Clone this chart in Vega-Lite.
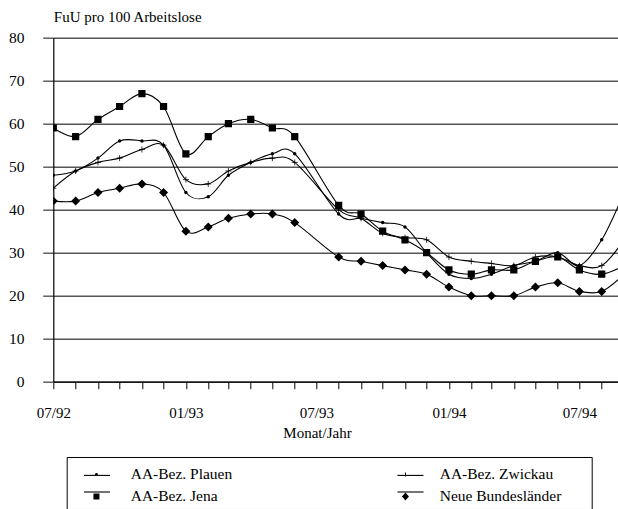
{
  "$schema": "https://vega.github.io/schema/vega-lite/v6.json",
  "width": 565,
  "height": 344,
  "autosize": {"type": "none"},
  "padding": {"left": 53.3, "top": 37.7, "right": 0, "bottom": 127.3},
  "background": "white",
  "config": {"view": {"stroke": null}, "font": "Liberation Serif"},
  "data": {"values": [
    {"Monat": "1992-07-01", "Reihe": "AA-Bez. Plauen", "Wert": 48},
    {"Monat": "1992-08-01", "Reihe": "AA-Bez. Plauen", "Wert": 49},
    {"Monat": "1992-09-01", "Reihe": "AA-Bez. Plauen", "Wert": 52},
    {"Monat": "1992-10-01", "Reihe": "AA-Bez. Plauen", "Wert": 56},
    {"Monat": "1992-11-01", "Reihe": "AA-Bez. Plauen", "Wert": 56},
    {"Monat": "1992-12-01", "Reihe": "AA-Bez. Plauen", "Wert": 55},
    {"Monat": "1993-01-01", "Reihe": "AA-Bez. Plauen", "Wert": 44},
    {"Monat": "1993-02-01", "Reihe": "AA-Bez. Plauen", "Wert": 43},
    {"Monat": "1993-03-01", "Reihe": "AA-Bez. Plauen", "Wert": 48},
    {"Monat": "1993-04-01", "Reihe": "AA-Bez. Plauen", "Wert": 51},
    {"Monat": "1993-05-01", "Reihe": "AA-Bez. Plauen", "Wert": 53},
    {"Monat": "1993-06-01", "Reihe": "AA-Bez. Plauen", "Wert": 53},
    {"Monat": "1993-08-01", "Reihe": "AA-Bez. Plauen", "Wert": 39},
    {"Monat": "1993-09-01", "Reihe": "AA-Bez. Plauen", "Wert": 38},
    {"Monat": "1993-10-01", "Reihe": "AA-Bez. Plauen", "Wert": 37},
    {"Monat": "1993-11-01", "Reihe": "AA-Bez. Plauen", "Wert": 36},
    {"Monat": "1993-12-01", "Reihe": "AA-Bez. Plauen", "Wert": 30},
    {"Monat": "1994-01-01", "Reihe": "AA-Bez. Plauen", "Wert": 25},
    {"Monat": "1994-02-01", "Reihe": "AA-Bez. Plauen", "Wert": 24},
    {"Monat": "1994-03-01", "Reihe": "AA-Bez. Plauen", "Wert": 25},
    {"Monat": "1994-04-01", "Reihe": "AA-Bez. Plauen", "Wert": 27},
    {"Monat": "1994-05-01", "Reihe": "AA-Bez. Plauen", "Wert": 28},
    {"Monat": "1994-06-01", "Reihe": "AA-Bez. Plauen", "Wert": 30},
    {"Monat": "1994-07-01", "Reihe": "AA-Bez. Plauen", "Wert": 27},
    {"Monat": "1994-08-01", "Reihe": "AA-Bez. Plauen", "Wert": 33},
    {"Monat": "1994-09-01", "Reihe": "AA-Bez. Plauen", "Wert": 44},
    {"Monat": "1992-07-01", "Reihe": "AA-Bez. Zwickau", "Wert": 45},
    {"Monat": "1992-08-01", "Reihe": "AA-Bez. Zwickau", "Wert": 49},
    {"Monat": "1992-09-01", "Reihe": "AA-Bez. Zwickau", "Wert": 51},
    {"Monat": "1992-10-01", "Reihe": "AA-Bez. Zwickau", "Wert": 52},
    {"Monat": "1992-11-01", "Reihe": "AA-Bez. Zwickau", "Wert": 54},
    {"Monat": "1992-12-01", "Reihe": "AA-Bez. Zwickau", "Wert": 55},
    {"Monat": "1993-01-01", "Reihe": "AA-Bez. Zwickau", "Wert": 47},
    {"Monat": "1993-02-01", "Reihe": "AA-Bez. Zwickau", "Wert": 46},
    {"Monat": "1993-03-01", "Reihe": "AA-Bez. Zwickau", "Wert": 49},
    {"Monat": "1993-04-01", "Reihe": "AA-Bez. Zwickau", "Wert": 51},
    {"Monat": "1993-05-01", "Reihe": "AA-Bez. Zwickau", "Wert": 52},
    {"Monat": "1993-06-01", "Reihe": "AA-Bez. Zwickau", "Wert": 51},
    {"Monat": "1993-08-01", "Reihe": "AA-Bez. Zwickau", "Wert": 40},
    {"Monat": "1993-09-01", "Reihe": "AA-Bez. Zwickau", "Wert": 38},
    {"Monat": "1993-10-01", "Reihe": "AA-Bez. Zwickau", "Wert": 34.5},
    {"Monat": "1993-11-01", "Reihe": "AA-Bez. Zwickau", "Wert": 33.5},
    {"Monat": "1993-12-01", "Reihe": "AA-Bez. Zwickau", "Wert": 33},
    {"Monat": "1994-01-01", "Reihe": "AA-Bez. Zwickau", "Wert": 29},
    {"Monat": "1994-02-01", "Reihe": "AA-Bez. Zwickau", "Wert": 28},
    {"Monat": "1994-03-01", "Reihe": "AA-Bez. Zwickau", "Wert": 27.5},
    {"Monat": "1994-04-01", "Reihe": "AA-Bez. Zwickau", "Wert": 27},
    {"Monat": "1994-05-01", "Reihe": "AA-Bez. Zwickau", "Wert": 29},
    {"Monat": "1994-06-01", "Reihe": "AA-Bez. Zwickau", "Wert": 29},
    {"Monat": "1994-07-01", "Reihe": "AA-Bez. Zwickau", "Wert": 27},
    {"Monat": "1994-08-01", "Reihe": "AA-Bez. Zwickau", "Wert": 27},
    {"Monat": "1994-09-01", "Reihe": "AA-Bez. Zwickau", "Wert": 33},
    {"Monat": "1992-07-01", "Reihe": "AA-Bez. Jena", "Wert": 59},
    {"Monat": "1992-08-01", "Reihe": "AA-Bez. Jena", "Wert": 57},
    {"Monat": "1992-09-01", "Reihe": "AA-Bez. Jena", "Wert": 61},
    {"Monat": "1992-10-01", "Reihe": "AA-Bez. Jena", "Wert": 64},
    {"Monat": "1992-11-01", "Reihe": "AA-Bez. Jena", "Wert": 67},
    {"Monat": "1992-12-01", "Reihe": "AA-Bez. Jena", "Wert": 64},
    {"Monat": "1993-01-01", "Reihe": "AA-Bez. Jena", "Wert": 53},
    {"Monat": "1993-02-01", "Reihe": "AA-Bez. Jena", "Wert": 57},
    {"Monat": "1993-03-01", "Reihe": "AA-Bez. Jena", "Wert": 60},
    {"Monat": "1993-04-01", "Reihe": "AA-Bez. Jena", "Wert": 61},
    {"Monat": "1993-05-01", "Reihe": "AA-Bez. Jena", "Wert": 59},
    {"Monat": "1993-06-01", "Reihe": "AA-Bez. Jena", "Wert": 57},
    {"Monat": "1993-08-01", "Reihe": "AA-Bez. Jena", "Wert": 41},
    {"Monat": "1993-09-01", "Reihe": "AA-Bez. Jena", "Wert": 39},
    {"Monat": "1993-10-01", "Reihe": "AA-Bez. Jena", "Wert": 35},
    {"Monat": "1993-11-01", "Reihe": "AA-Bez. Jena", "Wert": 33},
    {"Monat": "1993-12-01", "Reihe": "AA-Bez. Jena", "Wert": 30},
    {"Monat": "1994-01-01", "Reihe": "AA-Bez. Jena", "Wert": 26},
    {"Monat": "1994-02-01", "Reihe": "AA-Bez. Jena", "Wert": 25},
    {"Monat": "1994-03-01", "Reihe": "AA-Bez. Jena", "Wert": 26},
    {"Monat": "1994-04-01", "Reihe": "AA-Bez. Jena", "Wert": 26},
    {"Monat": "1994-05-01", "Reihe": "AA-Bez. Jena", "Wert": 28},
    {"Monat": "1994-06-01", "Reihe": "AA-Bez. Jena", "Wert": 29},
    {"Monat": "1994-07-01", "Reihe": "AA-Bez. Jena", "Wert": 26},
    {"Monat": "1994-08-01", "Reihe": "AA-Bez. Jena", "Wert": 25},
    {"Monat": "1994-09-01", "Reihe": "AA-Bez. Jena", "Wert": 27},
    {"Monat": "1992-07-01", "Reihe": "Neue Bundesländer", "Wert": 42},
    {"Monat": "1992-08-01", "Reihe": "Neue Bundesländer", "Wert": 42},
    {"Monat": "1992-09-01", "Reihe": "Neue Bundesländer", "Wert": 44},
    {"Monat": "1992-10-01", "Reihe": "Neue Bundesländer", "Wert": 45},
    {"Monat": "1992-11-01", "Reihe": "Neue Bundesländer", "Wert": 46},
    {"Monat": "1992-12-01", "Reihe": "Neue Bundesländer", "Wert": 44},
    {"Monat": "1993-01-01", "Reihe": "Neue Bundesländer", "Wert": 35},
    {"Monat": "1993-02-01", "Reihe": "Neue Bundesländer", "Wert": 36},
    {"Monat": "1993-03-01", "Reihe": "Neue Bundesländer", "Wert": 38},
    {"Monat": "1993-04-01", "Reihe": "Neue Bundesländer", "Wert": 39},
    {"Monat": "1993-05-01", "Reihe": "Neue Bundesländer", "Wert": 39},
    {"Monat": "1993-06-01", "Reihe": "Neue Bundesländer", "Wert": 37},
    {"Monat": "1993-08-01", "Reihe": "Neue Bundesländer", "Wert": 29},
    {"Monat": "1993-09-01", "Reihe": "Neue Bundesländer", "Wert": 28},
    {"Monat": "1993-10-01", "Reihe": "Neue Bundesländer", "Wert": 27},
    {"Monat": "1993-11-01", "Reihe": "Neue Bundesländer", "Wert": 26},
    {"Monat": "1993-12-01", "Reihe": "Neue Bundesländer", "Wert": 25},
    {"Monat": "1994-01-01", "Reihe": "Neue Bundesländer", "Wert": 22},
    {"Monat": "1994-02-01", "Reihe": "Neue Bundesländer", "Wert": 20},
    {"Monat": "1994-03-01", "Reihe": "Neue Bundesländer", "Wert": 20},
    {"Monat": "1994-04-01", "Reihe": "Neue Bundesländer", "Wert": 20},
    {"Monat": "1994-05-01", "Reihe": "Neue Bundesländer", "Wert": 22},
    {"Monat": "1994-06-01", "Reihe": "Neue Bundesländer", "Wert": 23},
    {"Monat": "1994-07-01", "Reihe": "Neue Bundesländer", "Wert": 21},
    {"Monat": "1994-08-01", "Reihe": "Neue Bundesländer", "Wert": 21},
    {"Monat": "1994-09-01", "Reihe": "Neue Bundesländer", "Wert": 25}
  ]},
  "encoding": {
    "x": {
      "field": "Monat", "type": "temporal",
      "scale": {"type": "utc", "domain": [
        {"year": 1992, "month": 7, "date": 1, "utc": true},
        {"year": 1994, "month": 8, "date": 24, "utc": true}
      ]},
      "axis": {
        "title": "Monat/Jahr",
        "tickCount": {"interval": "month", "step": 1},
        "labelExpr": "utcmonth(datum.value) % 6 == 0 ? utcFormat(datum.value, '%m/%y') : ''",
        "labelOverlap": false, "labelFlush": false, "labelBound": false,
        "grid": false,
        "domainColor": "black", "domainWidth": 1.2,
        "tickColor": "black", "tickSize": 7, "tickWidth": 1,
        "labelFont": "Liberation Serif", "labelFontSize": 15, "labelColor": "black", "labelPadding": 17,
        "titleFont": "Liberation Serif", "titleFontSize": 15, "titleFontWeight": "normal", "titleColor": "black",
        "titleX": 263.7, "titleY": 51, "titleBaseline": "middle", "titleAlign": "center"
      }
    },
    "y": {
      "field": "Wert", "type": "quantitative",
      "scale": {"domain": [0, 80]},
      "axis": {
        "title": "FuU pro 100 Arbeitslose",
        "values": [0, 10, 20, 30, 40, 50, 60, 70, 80],
        "grid": true, "gridColor": "#555555", "gridWidth": 1.4,
        "domainColor": "black", "domainWidth": 1.2,
        "tickColor": "#555555", "tickSize": 10.6, "tickWidth": 1.4,
        "labelFont": "Liberation Serif", "labelFontSize": 15.5, "labelColor": "black", "labelPadding": 18.7,
        "titleFont": "Liberation Serif", "titleFontSize": 15, "titleFontWeight": "normal", "titleColor": "black",
        "titleAngle": 0, "titleAlign": "left", "titleX": 0, "titleY": -21.7, "titleBaseline": "middle"
      }
    }
  },
  "layer": [
    {
      "mark": {"type": "line", "interpolate": "cardinal", "strokeWidth": 1.1, "clip": true},
      "encoding": {
        "color": {
          "field": "Reihe", "type": "nominal",
          "scale": {
            "domain": ["Neue Bundesländer", "AA-Bez. Zwickau", "AA-Bez. Jena", "AA-Bez. Plauen"],
            "range": ["black", "black", "black", "black"]
          },
          "legend": {
            "orient": "none", "legendX": 29.7, "legendY": 423.3, "columns": 2,
            "title": null, "padding": 0,
            "symbolType": "stroke", "symbolSize": 676, "symbolStrokeWidth": 1.1,
            "labelExpr": "''", "labelOffset": 0, "labelFontSize": 1,
            "columnPadding": 281.5, "rowPadding": -1
          }
        }
      }
    },
    {
      "transform": [{"filter": {"field": "Reihe", "equal": "AA-Bez. Jena"}}],
      "mark": {"type": "point", "shape": "square", "size": 52, "filled": true, "color": "black", "opacity": 1, "clip": true}
    },
    {
      "transform": [{"filter": {"field": "Reihe", "equal": "Neue Bundesländer"}}],
      "mark": {"type": "point", "shape": "diamond", "size": 81, "filled": true, "color": "black", "opacity": 1, "clip": true}
    },
    {
      "transform": [{"filter": {"field": "Reihe", "equal": "AA-Bez. Plauen"}}],
      "mark": {"type": "point", "shape": "circle", "size": 12, "filled": true, "color": "black", "opacity": 1, "clip": true}
    },
    {
      "transform": [{"filter": {"field": "Reihe", "equal": "AA-Bez. Zwickau"}}],
      "mark": {"type": "point", "shape": "M-1,0H1M0,-1V1", "size": 36, "filled": false, "color": "black", "strokeWidth": 0.8, "opacity": 1, "clip": true}
    },
    {
      "transform": [{"filter": {"field": "Monat", "equal": "1994-09-01"}}],
      "mark": {"type": "point", "filled": true, "color": "black", "opacity": 1, "size": 4, "clip": true},
      "encoding": {
        "shape": {
          "field": "Reihe", "type": "nominal",
          "scale": {
            "domain": ["AA-Bez. Plauen", "AA-Bez. Jena", "AA-Bez. Zwickau", "Neue Bundesländer"],
            "range": [
              "M0.86,0A0.12,0.12,0,1,1,1.1,0A0.12,0.12,0,1,1,0.86,0Z",
              "M0.74,-0.24H1.22V0.24H0.74Z",
              "M0.94,-0.16H1.02V0.16H0.94Z",
              "M0.98,-0.32L1.26,0L0.98,0.32L0.7,0Z"
            ]
          },
          "legend": {
            "orient": "none", "legendX": 13.4, "legendY": 419.3, "columns": 2,
            "title": " ", "titleOrient": "right", "titlePadding": 26,
            "strokeColor": "black", "padding": 4,
            "symbolSize": 625, "symbolFillColor": "black", "symbolOpacity": 1,
            "labelFont": "Liberation Serif", "labelFontSize": 15.5, "labelColor": "black", "labelOffset": 33, "labelLimit": 300,
            "columnPadding": 147, "rowPadding": 0
          }
        }
      }
    }
  ]
}
